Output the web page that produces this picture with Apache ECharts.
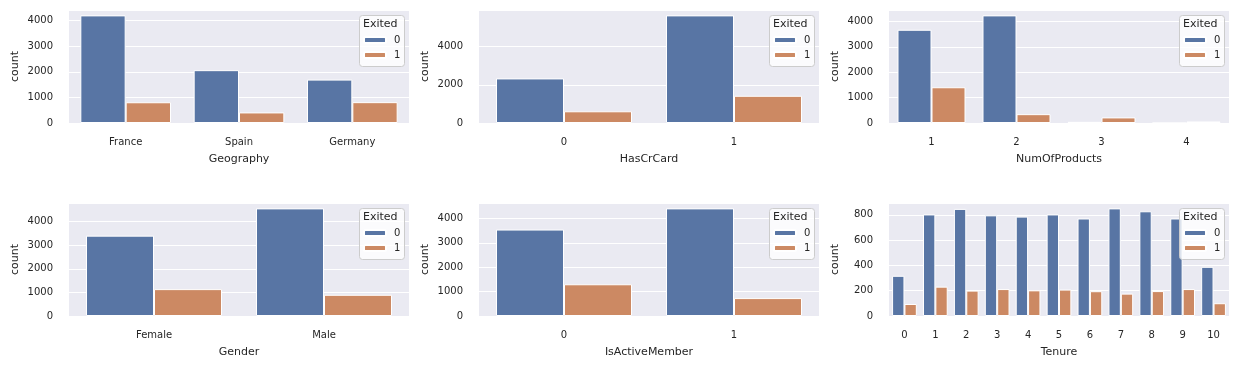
<!DOCTYPE html>
<html><head><meta charset="utf-8">
<script src="https://cdn.jsdelivr.net/npm/echarts@6/dist/echarts.min.js"></script>
<style>html,body{margin:0;padding:0;background:#fff}#c{width:1240px;height:368px}</style>
</head><body><div id="c"></div><script>
const hueNames = ['0', '1'];
const legendTitle = 'Exited';

const geoCats = ['France', 'Spain', 'Germany'];
const geo0 = [4204, 2064, 1695];
const geo1 = [810, 413, 814];

const cardCats = ['0', '1'];
const card0 = [2332, 5631];
const card1 = [613, 1424];

const prodCats = ['1', '2', '3', '4'];
const prod0 = [3675, 4242, 46, 0];
const prod1 = [1409, 348, 220, 60];

const genderCats = ['Female', 'Male'];
const gender0 = [3404, 4559];
const gender1 = [1139, 898];

const activeCats = ['0', '1'];
const active0 = [3547, 4416];
const active1 = [1302, 735];

const tenureCats = ['0','1','2','3','4','5','6','7','8','9','10'];
const tenure0 = [318, 803, 847, 796, 786, 803, 771, 851, 828, 771, 389];
const tenure1 = [95, 232, 201, 213, 203, 209, 196, 177, 197, 213, 101];

const panels = [
  {name: 'Geography', cats: geoCats, s0: geo0, s1: geo1, interval: 1000},
  {name: 'HasCrCard', cats: cardCats, s0: card0, s1: card1, interval: 2000},
  {name: 'NumOfProducts', cats: prodCats, s0: prod0, s1: prod1, interval: 1000},
  {name: 'Gender', cats: genderCats, s0: gender0, s1: gender1, interval: 1000},
  {name: 'IsActiveMember', cats: activeCats, s0: active0, s1: active1, interval: 1000},
  {name: 'Tenure', cats: tenureCats, s0: tenure0, s1: tenure1, interval: 200}
];

const FONT = 'DejaVu Sans';
const TXT = '#262626';
const C0 = '#5875a4', C1 = '#cc8963';
const lefts = [69, 479, 889], tops = [10, 203];
const W = 340, H = 113;

const grid = [], xAxis = [], yAxis = [], series = [], legend = [], graphic = [];
panels.forEach((p, i) => {
  const L = lefts[i % 3], T = tops[Math.floor(i / 3)];
  grid.push({left: L, top: T, width: W, height: H, show: true, backgroundColor: '#EAEAF2', borderWidth: 0, containLabel: false});
  xAxis.push({
    type: 'category', gridIndex: i, data: p.cats,
    name: p.name, nameLocation: 'middle', nameGap: 31,
    nameTextStyle: {fontFamily: FONT, fontSize: 11, color: TXT},
    axisLine: {show: false}, axisTick: {show: false},
    axisLabel: {fontFamily: FONT, fontSize: 10, color: TXT, margin: 14},
    splitLine: {show: false}
  });
  const mx = Math.max(...p.s0, ...p.s1) * 1.05;
  yAxis.push({
    type: 'value', gridIndex: i, min: 0, max: mx, interval: p.interval,
    name: 'count', nameLocation: 'middle', nameGap: 48,
    nameTextStyle: {fontFamily: FONT, fontSize: 11, color: TXT},
    axisLine: {show: false}, axisTick: {show: false},
    axisLabel: {fontFamily: FONT, fontSize: 10, color: TXT, margin: 16,
      showMaxLabel: false, formatter: v => String(v)},
    splitLine: {show: true, lineStyle: {color: '#ffffff', width: 1}}
  });
  [p.s0, p.s1].forEach((d, k) => {
    series.push({
      type: 'bar', name: hueNames[k], xAxisIndex: i, yAxisIndex: i, data: d,
      barWidth: '40%', barGap: '0%',
      itemStyle: {color: k ? C1 : C0, borderColor: '#ffffff', borderWidth: 1},
      emphasis: {disabled: true}
    });
  });
  const bx = L + W - 50, by = T + 5;
  graphic.push({type: 'rect', left: bx, top: by, z: 10,
    shape: {width: 45, height: 51, r: 3},
    style: {fill: 'rgba(255,255,255,0.8)', stroke: '#cccccc', lineWidth: 1}});
  graphic.push({type: 'text', left: bx + 4, top: by + 4, z: 11,
    style: {text: legendTitle, font: '11px "DejaVu Sans"', fill: TXT}});
  legend.push({
    data: hueNames, orient: 'vertical', left: bx + 4, top: by + 19,
    itemWidth: 22, itemHeight: 6, itemGap: 3, padding: 0, z: 12,
    selectedMode: false,
    textStyle: {fontFamily: FONT, fontSize: 10, color: TXT, lineHeight: 12, padding: [0, 0, 0, 3]}
  });
});

const chart = echarts.init(document.getElementById('c'), null, {renderer: 'canvas'});
chart.setOption({
  backgroundColor: '#ffffff', animation: false,
  grid, xAxis, yAxis, series, legend, graphic
});
</script></body></html>
